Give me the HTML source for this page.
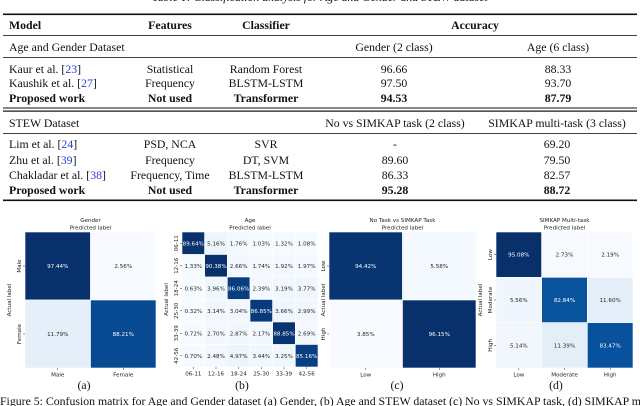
<!DOCTYPE html>
<html><head><meta charset="utf-8"><style>
html,body{margin:0;padding:0;background:#fff;width:640px;height:406px;overflow:hidden}
svg{display:block}
.s{font-family:"Liberation Serif",serif;font-size:11.8px;fill:#111}
.b{font-weight:bold}
.t{font-family:"DejaVu Sans",sans-serif;font-size:5.6px;fill:#222}
.lnk{fill:#2a3fd6}
</style></head><body>
<svg id="root" width="640" height="406" viewBox="0 0 640 406">
<g>
<text class="s" x="320" y="1" text-anchor="middle" font-style="italic">Table 1: Classification analysis for Age and Gender and STEW dataset</text>
<rect x="3" y="13.5" width="634" height="1.6" fill="#111"/>
<text class="s b" x="9" y="29">Model</text>
<text class="s b" x="170" y="29" text-anchor="middle">Features</text>
<text class="s b" x="266" y="29" text-anchor="middle">Classifier</text>
<text class="s b" x="475" y="29" text-anchor="middle">Accuracy</text>
<rect x="3" y="35" width="634" height="0.8" fill="#111"/>
<text class="s" x="9" y="51">Age and Gender Dataset</text>
<text class="s" x="394" y="51" text-anchor="middle">Gender (2 class)</text>
<text class="s" x="558" y="51" text-anchor="middle">Age (6 class)</text>
<rect x="3" y="57" width="634" height="0.8" fill="#111"/>
<text class="s" x="9" y="73">Kaur et al. [<tspan class="lnk">23</tspan>]</text>
<text class="s" x="170" y="73" text-anchor="middle">Statistical</text>
<text class="s" x="266" y="73" text-anchor="middle">Random Forest</text>
<text class="s" x="394" y="73" text-anchor="middle">96.66</text>
<text class="s" x="558" y="73" text-anchor="middle">88.33</text>
<text class="s" x="9" y="87">Kaushik et al. [<tspan class="lnk">27</tspan>]</text>
<text class="s" x="170" y="87" text-anchor="middle">Frequency</text>
<text class="s" x="266" y="87" text-anchor="middle">BLSTM-LSTM</text>
<text class="s" x="394" y="87" text-anchor="middle">97.50</text>
<text class="s" x="558" y="87" text-anchor="middle">93.70</text>
<text class="s b" x="9" y="102">Proposed work</text>
<text class="s b" x="170" y="102" text-anchor="middle">Not used</text>
<text class="s b" x="266" y="102" text-anchor="middle">Transformer</text>
<text class="s b" x="394" y="102" text-anchor="middle">94.53</text>
<text class="s b" x="558" y="102" text-anchor="middle">87.79</text>
<rect x="3" y="107.5" width="634" height="1" fill="#111"/>
<rect x="3" y="110.5" width="634" height="1.2" fill="#111"/>
<text class="s" x="9" y="127">STEW Dataset</text>
<text class="s" x="395" y="127" text-anchor="middle">No vs SIMKAP task (2 class)</text>
<text class="s" x="557" y="127" text-anchor="middle">SIMKAP multi-task (3 class)</text>
<rect x="3" y="133" width="634" height="0.8" fill="#111"/>
<text class="s" x="9" y="148">Lim et al. [<tspan class="lnk">24</tspan>]</text>
<text class="s" x="170" y="148" text-anchor="middle">PSD, NCA</text>
<text class="s" x="266" y="148" text-anchor="middle">SVR</text>
<text class="s" x="395" y="148" text-anchor="middle">-</text>
<text class="s" x="557" y="148" text-anchor="middle">69.20</text>
<text class="s" x="9" y="164">Zhu et al. [<tspan class="lnk">39</tspan>]</text>
<text class="s" x="170" y="164" text-anchor="middle">Frequency</text>
<text class="s" x="266" y="164" text-anchor="middle">DT, SVM</text>
<text class="s" x="395" y="164" text-anchor="middle">89.60</text>
<text class="s" x="557" y="164" text-anchor="middle">79.50</text>
<text class="s" x="9" y="179">Chakladar et al. [<tspan class="lnk">38</tspan>]</text>
<text class="s" x="170" y="179" text-anchor="middle">Frequency, Time</text>
<text class="s" x="266" y="179" text-anchor="middle">BLSTM-LSTM</text>
<text class="s" x="395" y="179" text-anchor="middle">86.33</text>
<text class="s" x="557" y="179" text-anchor="middle">82.57</text>
<text class="s b" x="9" y="194">Proposed work</text>
<text class="s b" x="170" y="194" text-anchor="middle">Not used</text>
<text class="s b" x="266" y="194" text-anchor="middle">Transformer</text>
<text class="s b" x="395" y="194" text-anchor="middle">95.28</text>
<text class="s b" x="557" y="194" text-anchor="middle">88.72</text>
<rect x="3" y="199.5" width="634" height="1.6" fill="#111"/>
</g>
<g id="charts"></g>
<text class="s" x="84" y="389" text-anchor="middle">(a)</text>
<text class="s" x="242" y="389" text-anchor="middle">(b)</text>
<text class="s" x="397" y="389" text-anchor="middle">(c)</text>
<text class="s" x="556" y="389" text-anchor="middle">(d)</text>
<text class="s" x="0" y="405">Figure 5: Confusion matrix for Age and Gender dataset (a) Gender, (b) Age and STEW dataset (c) No vs SIMKAP task, (d) SIMKAP multi-task</text>
</svg>
<script>
const genderLabels = ["Male","Female"];
const genderValues = [[97.44,2.56],[11.79,88.21]];
const ageLabels = ["06-11","12-16","18-24","25-30","33-39","42-56"];
const ageValues = [
 [89.64,5.16,1.76,1.03,1.32,1.08],
 [1.33,90.38,2.66,1.74,1.92,1.97],
 [0.63,3.96,86.06,2.39,3.19,3.77],
 [0.32,3.14,3.04,86.85,3.66,2.99],
 [0.72,2.70,2.87,2.17,88.85,2.69],
 [0.70,2.48,4.97,3.44,3.25,85.16]];
const taskLabels = ["Low","High"];
const taskValues = [[94.42,5.58],[3.85,96.15]];
const multiLabels = ["Low","Moderate","High"];
const multiValues = [[95.08,2.73,2.19],[5.56,82.84,11.60],[5.14,11.39,83.47]];
const chartTitles = ["Gender","Age","No Task vs SIMKAP Task","SIMKAP Multi-task"];

const NS="http://www.w3.org/2000/svg";
const stops=[[247,251,255],[222,235,247],[198,219,239],[158,202,225],[107,174,214],[66,146,198],[33,113,181],[8,81,156],[8,48,107]];
function blues(t){t=Math.max(0,Math.min(1,t));const p=t*8,i=Math.min(7,Math.floor(p)),f=p-i;const a=stops[i],b=stops[i+1];
 return "rgb("+a.map((v,k)=>Math.round(v+(b[k]-v)*f)).join(",")+")";}
function mk(tag,attrs,parent){const e=document.createElementNS(NS,tag);for(const k in attrs)e.setAttribute(k,attrs[k]);parent.appendChild(e);return e;}
const root=document.getElementById("charts");
function draw(idx,labels,vals,x0,x1,y0,y1,ylabX){
 const g=mk("g",{},root);
 
 
 const n=labels.length,cw=(x1-x0)/n,ch=(y1-y0)/n;
 const flat=vals.flat(),mn=Math.min(...flat),mx=Math.max(...flat);
 const cx=(x0+x1)/2;
 const tt=mk("text",{x:cx,y:222,"text-anchor":"middle",class:"t","font-size":"6.4"},g);tt.textContent=chartTitles[idx];
 
 
 const pl=mk("text",{x:cx,y:229.5,"text-anchor":"middle",class:"t","font-size":"5"},g);pl.textContent="Predicted label";
 
 
 const al=mk("text",{x:ylabX,y:(y0+y1)/2,"text-anchor":"middle",class:"t","font-size":"5.8",transform:"rotate(-90 "+ylabX+" "+(y0+y1)/2+")"},g);al.textContent="Actual label";
 
 
 for(let r=0;r<n;r++)for(let c=0;c<n;c++){
  const v=vals[r][c],t=(v-mn)/(mx-mn);
  const rc=mk("rect",{x:x0+c*cw,y:y0+r*ch,width:cw,height:ch,fill:blues(t),stroke:"#fff","stroke-width":"0.6"},g);
  
  
  const tx=mk("text",{x:x0+(c+.5)*cw,y:y0+(r+.5)*ch+2,"text-anchor":"middle",class:"t"},g);
  tx.style.fill=t>0.5?"#fff":"#262626";tx.textContent=v.toFixed(2)+"%";
  
  
 }
 labels.forEach((l,i)=>{
  const xx=x0+(i+.5)*cw;
  mk("line",{x1:xx,x2:xx,y1:y1,y2:y1+2,stroke:"#333","stroke-width":"0.5"},g);
  const xt=mk("text",{x:xx,y:y1+8.5,"text-anchor":"middle",class:"t","font-size":"5.8"},g);xt.textContent=l;
  
  
  const yy=y0+(i+.5)*ch;
  mk("line",{x1:x0-2,x2:x0,y1:yy,y2:yy,stroke:"#333","stroke-width":"0.5"},g);
  const yt=mk("text",{x:x0-4,y:yy,"text-anchor":"middle",class:"t","font-size":"5.8",transform:"rotate(-90 "+(x0-4)+" "+yy+")"},g);yt.textContent=l;
  
  
 });
}
draw(0,genderLabels,genderValues,25,156,232,368,11);
draw(1,ageLabels,ageValues,182,318,232,367,168);
draw(2,taskLabels,taskValues,329,476,232,368,325);
draw(3,multiLabels,multiValues,496,633,232,368,482);
</script>
</body></html>
